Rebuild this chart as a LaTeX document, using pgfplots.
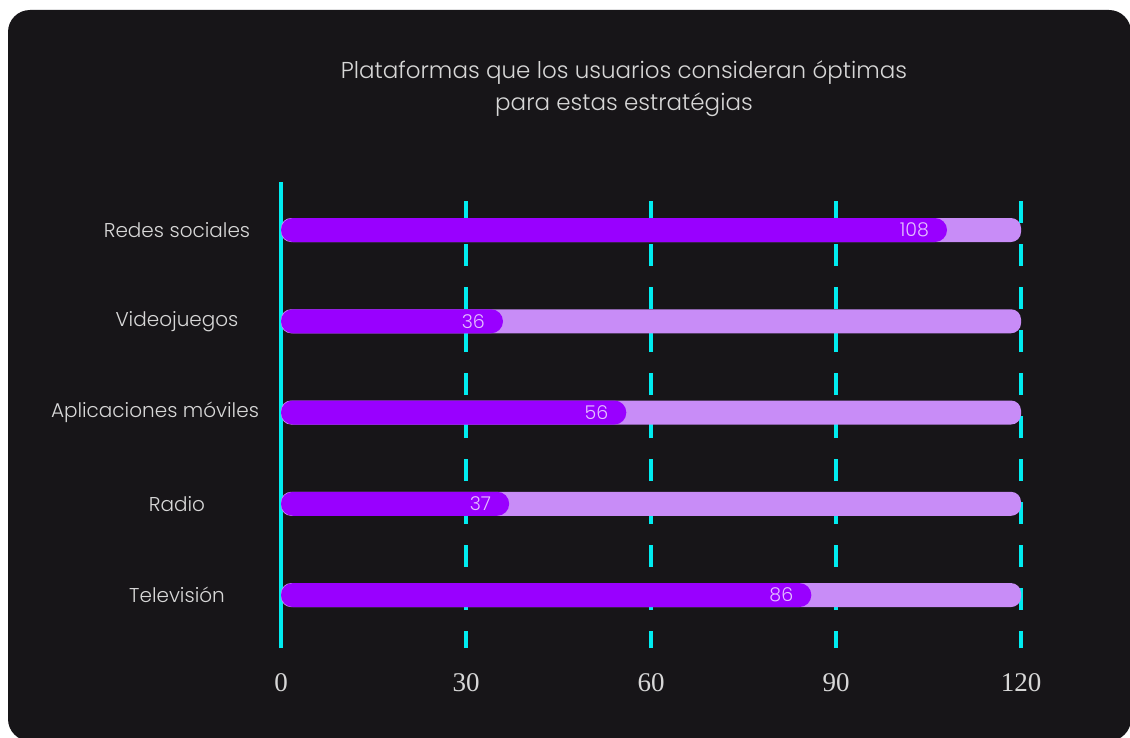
\documentclass[border=0pt]{standalone}
\usepackage{fontspec}
\setmainfont{Poppins}[UprightFont={* Light}]
\newfontfamily\serifnum{Liberation Serif}
\usepackage{pgfplots}
\pgfplotsset{compat=1.18}
\definecolor{card}{RGB}{23,21,24}
\definecolor{gridc}{RGB}{0,236,240}
\definecolor{barbg}{RGB}{200,140,247}
\definecolor{barfg}{RGB}{153,0,255}
\definecolor{txt}{RGB}{215,215,215}
\definecolor{lbl}{RGB}{228,190,255}
\begin{document}
\begin{tikzpicture}[x=0.5pt,y=-0.5pt]
\fill[white] (0,0) rectangle (1130,738);
\begin{scope}
\clip (0,0) rectangle (1130,738);
\fill[card, rounded corners=11pt] (8,10) rectangle (1131,741);
\end{scope}
\node[align=center, text=txt, font=\fontsize{11.5}{16}\selectfont] at (624,89)
  {Plataformas que los usuarios consideran óptimas\\para estas estratégias};
\begin{axis}[
  at={(140.5pt,-324pt)}, anchor=south west,
  width=370pt, height=233pt, scale only axis,
  xmin=0, xmax=120, ymin=-0.58, ymax=4.526,
  axis lines*=left, axis line style={draw=none},
  xtick={30,60,90,120},
  extra x ticks={0},
  extra x tick style={grid style={solid, gridc, line width=1.6pt}},
  xmajorgrids,
  grid style={gridc, line width=1.6pt, dash pattern=on 11pt off 10.5pt, dash phase=2.5pt},
  major tick length=0pt,
  ytick={0,1,2,3,4},
  yticklabels={Televisión, Radio, {\hspace*{-22pt}Aplicaciones móviles}, Videojuegos, Redes sociales},
  yticklabel style={anchor=center, xshift=-52pt, text=txt, font=\fontsize{10}{12}\selectfont},
  xticklabel style={text=txt, font=\serifnum\fontsize{13.5}{16}\selectfont, yshift=-9pt},
  /pgf/number format/assume math mode=true,
]
\addplot[xbar, bar width=12pt, bar shift=0pt, fill=barbg, draw=none, rounded corners=5pt]
  coordinates {(120,0) (120,1) (120,2) (120,3) (120,4)};
\addplot[xbar, bar width=12pt, bar shift=0pt, fill=barfg, draw=none, rounded corners=6pt,
  nodes near coords,
  nodes near coords style={anchor=east, xshift=-5.5pt, text=lbl, font=\fontsize{9.5}{11}\selectfont}]
  coordinates {(86,0) (37,1) (56,2) (36,3) (108,4)};
\end{axis}
\end{tikzpicture}
\end{document}
